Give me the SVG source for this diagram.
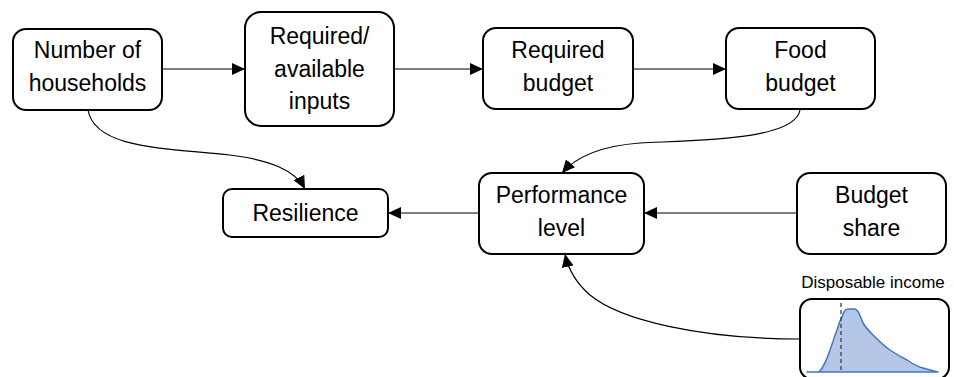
<svg xmlns="http://www.w3.org/2000/svg" width="954" height="377" viewBox="0 0 954 377">
  <style>
    .box { fill: #ffffff; stroke: #000000; stroke-width: 2; }
    .lbl { font-family: "Liberation Sans", Arial, sans-serif; font-size: 23px; fill: #000000; text-anchor: middle; }
    .small { font-family: "Liberation Sans", Arial, sans-serif; font-size: 17px; fill: #000000; text-anchor: middle; }
    .edge { fill: none; stroke: #000000; stroke-width: 1.2; marker-end: url(#arrow); }
  </style>
  <defs>
    <marker id="arrow" viewBox="0 0 13 12" refX="13" refY="6" markerWidth="13" markerHeight="12" markerUnits="userSpaceOnUse" orient="auto">
      <path d="M0,0 L13,6 L0,12 Z" fill="#000000"/>
    </marker>
  </defs>
  <rect width="954" height="377" fill="#ffffff"/>

  <g id="connectors">
    <path class="edge" d="M162,69 L245,69"/>
    <path class="edge" d="M394,69 L483,69"/>
    <path class="edge" d="M633,69 L726,69"/>
    <path class="edge" d="M88,110 C95,150 170,148 230,155 C270,160 295,170 305,189"/>
    <path class="edge" d="M800,110 C795,140 700,140 640,143 C600,146 575,158 562,173"/>
    <path class="edge" d="M479,213 L388,213"/>
    <path class="edge" d="M797,213 L644,213"/>
    <path class="edge" d="M800,339 C700,339 620,320 590,295 C575,282 568,268 565,254"/>
  </g>

  <g id="households">
    <rect class="box" x="13" y="29" width="149" height="81" rx="13"/>
    <text class="lbl" x="87.5" y="58">Number of</text>
    <text class="lbl" x="87.5" y="91">households</text>
  </g>

  <g id="inputs">
    <rect class="box" x="245" y="12" width="149" height="114" rx="16"/>
    <text class="lbl" x="319.5" y="44">Required/</text>
    <text class="lbl" x="319.5" y="77">available</text>
    <text class="lbl" x="319.5" y="109">inputs</text>
  </g>

  <g id="required-budget">
    <rect class="box" x="483" y="28" width="150" height="81" rx="13"/>
    <text class="lbl" x="558" y="58">Required</text>
    <text class="lbl" x="558" y="91">budget</text>
  </g>

  <g id="food-budget">
    <rect class="box" x="726" y="28" width="149" height="81" rx="13"/>
    <text class="lbl" x="800.5" y="58">Food</text>
    <text class="lbl" x="800.5" y="91">budget</text>
  </g>

  <g id="resilience">
    <rect class="box" x="223" y="189" width="165" height="48" rx="9"/>
    <text class="lbl" x="305.5" y="221">Resilience</text>
  </g>

  <g id="performance">
    <rect class="box" x="479" y="173" width="165" height="81" rx="13"/>
    <text class="lbl" x="561.5" y="203">Performance</text>
    <text class="lbl" x="561.5" y="236">level</text>
  </g>

  <g id="budget-share">
    <rect class="box" x="797" y="173" width="149" height="81" rx="13"/>
    <text class="lbl" x="871.5" y="203">Budget</text>
    <text class="lbl" x="871.5" y="236">share</text>
  </g>

  <g id="disposable-income">
    <text class="small" x="873" y="288">Disposable income</text>
    <rect class="box" x="800" y="299" width="149" height="80" rx="12"/>
    <path d="M807,372 L819,372 C823,368 826,362 830,350 C833,342 835,335 837,330 C839,324 840,320 842,317 C844,311 845,309 849,309 L855,309 C859,310 860,316 863,323 C866,328 869,331 873,335 C879,341 884,346 890,350 C896,354 901,357 907,360 C913,364 918,367 923,368 C929,370 934,371 938,372 Z" fill="#b4c7e7" stroke="#4472c4" stroke-width="1.5" stroke-linejoin="round"/>
    <line x1="841" y1="303" x2="841" y2="372" stroke="#404040" stroke-width="1.3" stroke-dasharray="4,3"/>
  </g>
</svg>
